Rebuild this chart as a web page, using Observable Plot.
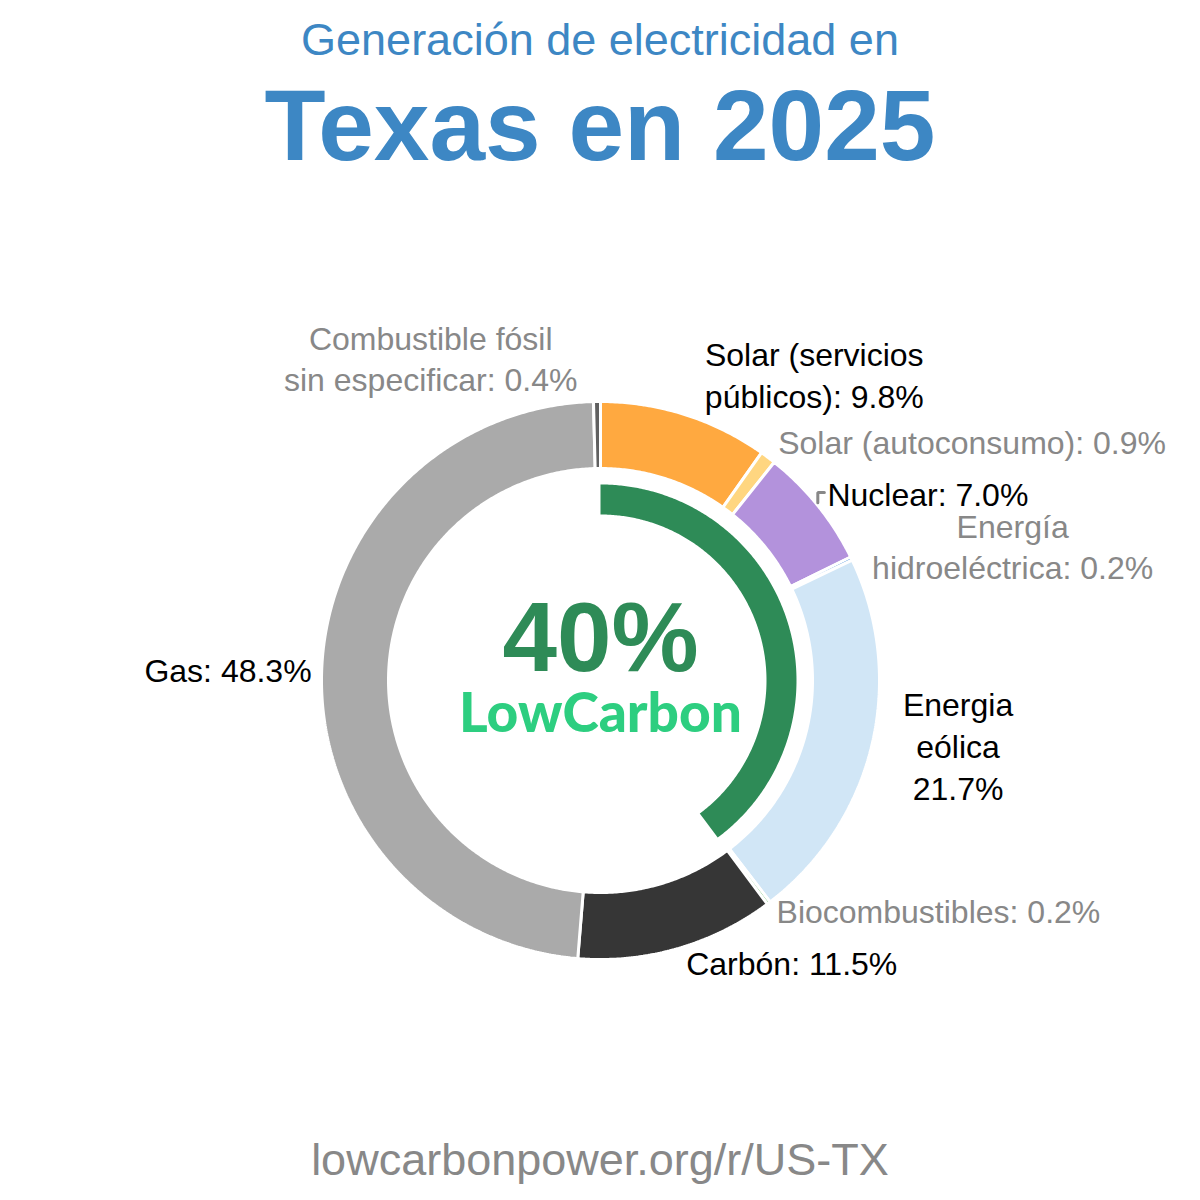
<!DOCTYPE html>
<html><head><meta charset="utf-8">
<script src="https://cdn.jsdelivr.net/npm/d3@7"></script>
<script src="https://cdn.jsdelivr.net/npm/@observablehq/plot@0.6"></script>
<style>
body{margin:0;background:#fff;}
#page{position:relative;width:1200px;height:1200px;font-family:"Liberation Sans",Arial,sans-serif;overflow:hidden;}
.t{position:absolute;left:0;width:1200px;text-align:center;white-space:nowrap;}
#sub{top:17px;font-size:45px;line-height:45px;color:#3d87c4;}
#title{top:75px;font-size:100px;line-height:100px;font-weight:bold;color:#3d87c4;}
#foot{top:1137px;font-size:45px;line-height:45px;color:#888;}
#chart{position:absolute;left:0;top:200px;}
</style></head><body>
<div id="page">
<div class="t" id="sub">Generación de electricidad en</div>
<div class="t" id="title">Texas en 2025</div>
<div id="chart"></div>
<div class="t" id="foot">lowcarbonpower.org/r/US-TX</div>
</div>
<script>
// ---- data ----
const sources = ["Solar (servicios públicos)", "Solar (autoconsumo)", "Nuclear", "Energía hidroeléctrica", "Energia eólica", "Biocombustibles", "Carbón", "Gas", "Combustible fósil sin especificar"];
const shares = [9.8, 0.9, 7.0, 0.2, 21.7, 0.2, 11.5, 48.3, 0.4];
const isLowCarbon = [true, true, true, true, true, true, false, false, false];
const labelTemplates = ["Solar (servicios\npúblicos): {v}", "Solar (autoconsumo): {v}", "Nuclear: {v}", "Energía\nhidroeléctrica: {v}", "Energia\neólica\n{v}", "Biocombustibles: {v}", "Carbón: {v}", "Gas: {v}", "Combustible fósil\nsin especificar: {v}"];
const colors = ["#ffa940", "#ffd680", "#b392dc", "#4a90d9", "#d1e6f6", "#6cbf6c", "#363636", "#aaaaaa", "#606060"];

// ---- layout (not data) ----
const R_OUT = 279, R_IN = 212, G_OUT = 196, G_IN = 166;
const labelRadius = [318, 296, 294, 302, 311, 292, 296, 289, 320];
const labelDx = [8, 0, -2, 0, 0, 0, 4, 0, -19];
const labelDy = [0, 0, 0, 0, 5, 0, 0, 0, 0];
const FONT = 32;

const total = d3.sum(shares);
let acc = 0;
const slices = sources.map((name, i) => {
  const a0 = acc / total * 2 * Math.PI;
  acc += shares[i];
  const a1 = acc / total * 2 * Math.PI;
  return {name, share: shares[i], a0, a1, mid: (a0 + a1) / 2, i};
});

function arcPoints(a0, a1, r0, r1, name) {
  const n = Math.max(2, Math.ceil((a1 - a0) * 180 / Math.PI * 2));
  const pts = [];
  for (let k = 0; k <= n; k++) { const a = a0 + (a1 - a0) * k / n; pts.push({name, x: r1 * Math.sin(a), y: r1 * Math.cos(a)}); }
  for (let k = n; k >= 0; k--) { const a = a0 + (a1 - a0) * k / n; pts.push({name, x: r0 * Math.sin(a), y: r0 * Math.cos(a)}); }
  pts.push({...pts[0]});
  return pts;
}

const ringPts = slices.flatMap(s => arcPoints(s.a0, s.a1, R_IN, R_OUT, s.name));
const lowShare = d3.sum(shares.filter((v, i) => isLowCarbon[i]));
const greenPts = arcPoints(0, lowShare / total * 2 * Math.PI, G_IN, G_OUT, "low");

// label placement
const ctx = document.createElement("canvas").getContext("2d");
ctx.font = `${FONT}px "Liberation Sans"`;
const labels = slices.map(s => {
  const text = labelTemplates[s.i].replace("{v}", s.share.toFixed(1) + "%");
  const w = d3.max(text.split("\n"), l => ctx.measureText(l).width);
  const r = labelRadius[s.i];
  const ax = r * Math.sin(s.mid) + labelDx[s.i];
  const ay = r * Math.cos(s.mid) + labelDy[s.i] + 3.5;
  const right = Math.sin(s.mid) >= 0;
  return {text, x: right ? ax + w / 2 : ax - w / 2, y: ay, ax, ay, minor: s.share < 1, i: s.i};
});

// small leader for Nuclear label
const nuc = slices[2], nl = labels[2];
const leader = [
  {x: 283 * Math.sin(nuc.mid) - 3, y: 283 * Math.cos(nuc.mid)},
  {x: 283 * Math.sin(nuc.mid) - 3, y: nl.ay},
  {x: nl.ax - 3, y: nl.ay}
];

const center = [{big: Math.round(lowShare) + "%", brand: "LowCarbon"}];

const chart = Plot.plot({
  width: 1200, height: 900, margin: 0,
  x: {domain: [-600, 600], axis: null},
  y: {domain: [-420, 480], axis: null},
  color: {domain: sources, range: colors},
  style: {fontFamily: '"Liberation Sans", Arial, sans-serif', background: "white", overflow: "visible"},
  marks: [
    Plot.line(ringPts, {x: "x", y: "y", z: "name", fill: "name", stroke: "white", strokeWidth: 3, strokeLinejoin: "miter"}),
    Plot.line(greenPts, {x: "x", y: "y", fill: "#2e8b57", stroke: "none"}),
    Plot.line(leader, {x: "x", y: "y", stroke: "#888", strokeWidth: 3, strokeLinejoin: "miter"}),
    Plot.text(labels, {filter: d => !d.minor, x: "x", y: "y", text: "text", fill: "#000", fontSize: FONT, lineHeight: 1.3, textAnchor: "middle"}),
    Plot.text(labels, {filter: d => d.minor, x: "x", y: "y", text: "text", fill: "#888", fontSize: FONT, lineHeight: 1.3, textAnchor: "middle"}),
    Plot.text(center, {x: () => 0, y: () => 0, text: "big", fill: "#2e8b57", fontSize: 98, fontWeight: "bold", lineAnchor: "bottom", dy: -10}),
    Plot.text(center, {x: () => 0, y: () => 0, text: "brand", fill: "#2dce80", fontSize: 55, fontWeight: 900, fontFamily: "Lato", lineAnchor: "bottom", dy: 51})
  ]
});
document.getElementById("chart").appendChild(chart);
</script>
</body></html>
